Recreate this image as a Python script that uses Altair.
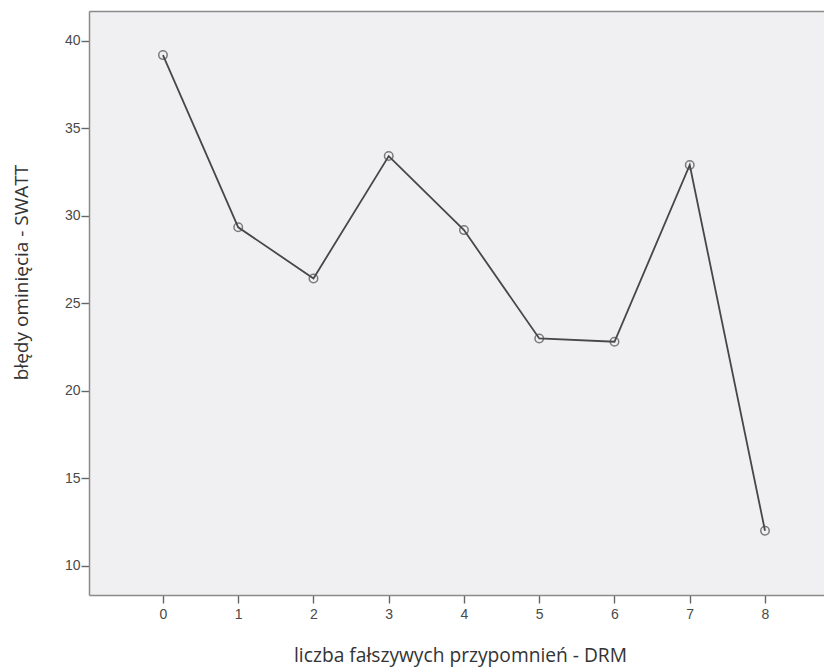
import altair as alt
import pandas as pd

drm = [0, 1, 2, 3, 4, 5, 6, 7, 8]
swatt = [39.18, 29.34, 26.42, 33.41, 29.18, 22.99, 22.80, 32.90, 12.0]
y_ticks = [10, 15, 20, 25, 30, 35, 40]

df = pd.DataFrame({"drm": drm, "swatt": swatt})

xscale = alt.Scale(domain=[-0.983, 8.784], nice=False, zero=False)
yscale = alt.Scale(domain=[8.33, 41.70], nice=False, zero=False)

x_axis = alt.Axis(title="liczba fałszywych przypomnień - DRM",
                  values=drm, format="d", orient="bottom",
                  grid=False, domainColor="#8a8a8a", domainWidth=1.5,
                  tickColor="#666666", tickSize=8, tickWidth=1.4,
                  labelFont="Liberation Sans", labelFontSize=14,
                  labelColor="#4a4a4a", labelPadding=4,
                  titleFont="Open Sans", titleFontSize=19.2,
                  titleColor="#333333", titleFontWeight="normal",
                  titleX=371, titleY=66, titleBaseline="alphabetic",
                  titleAlign="center")

y_axis = alt.Axis(title="błędy ominięcia - SWATT",
                  values=y_ticks,
                  grid=False, domainColor="#8a8a8a", domainWidth=1.5,
                  tickColor="#666666", tickSize=8, tickWidth=1.4,
                  labelFont="Liberation Sans", labelFontSize=14,
                  labelColor="#4a4a4a", labelPadding=1,
                  titleFont="Open Sans", titleFontSize=19,
                  titleColor="#333333", titleFontWeight="normal",
                  titleX=-68, titleY=261, titleAngle=270,
                  titleAlign="center", titleBaseline="middle")

base = alt.Chart(df)

line = base.mark_line(color="#474747", strokeWidth=1.8).encode(
    x=alt.X("drm:Q", scale=xscale, axis=x_axis),
    y=alt.Y("swatt:Q", scale=yscale, axis=y_axis),
)

points = base.mark_point(shape="circle", filled=False, size=72,
                         color="#4a4a4a", strokeWidth=1.5).encode(
    x=alt.X("drm:Q", scale=xscale,
            axis=alt.Axis(orient="top", labels=False, ticks=False, title=None,
                          grid=False, domainColor="#8a8a8a", domainWidth=1.5)),
    y=alt.Y("swatt:Q", scale=yscale, axis=y_axis),
)

chart = alt.layer(line, points).resolve_axis(x="independent").properties(
    width=735, height=584,
    autosize=alt.AutoSizeParams(type="none"),
    padding={"left": 81, "top": 3, "right": 0, "bottom": 72},
    background="white",
).configure_view(fill="#f0f0f2", stroke=None)

chart.save("out.html", embed_options={"renderer": "svg", "actions": False})
